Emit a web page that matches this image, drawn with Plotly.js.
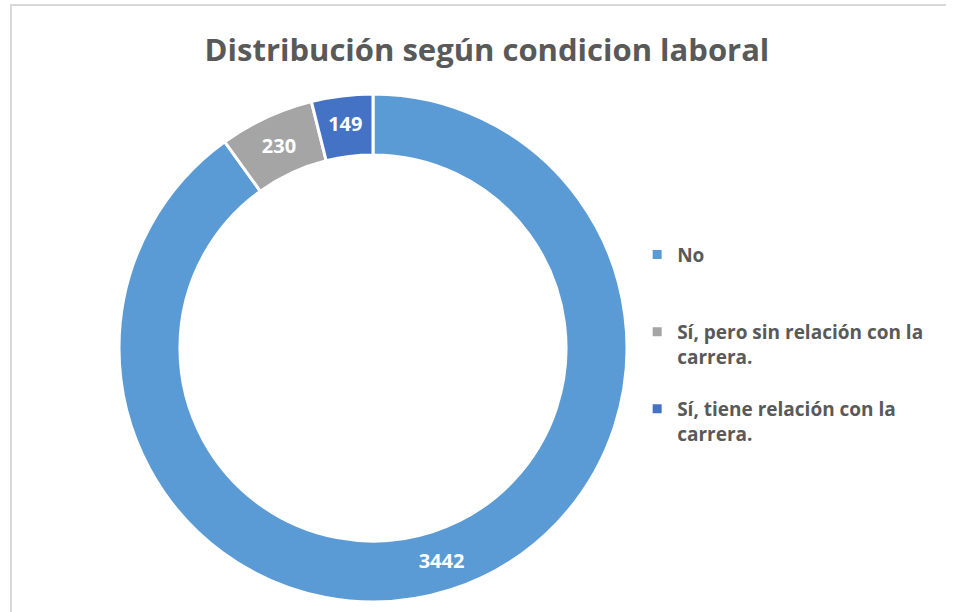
<!DOCTYPE html>
<html>
<head>
<meta charset="utf-8">
<script src="https://cdn.plot.ly/plotly-3.0.1.min.js"></script>
<style>
  html, body { margin: 0; padding: 0; background: #fff; }
  #frame { position: absolute; left: 10px; top: 4px; width: 934px; height: 608px;
           border-left: 2px solid #d9d9d9; border-top: 2px solid #d9d9d9; }
  #chart { position: absolute; left: 0; top: 0; width: 953px; height: 612px; }
</style>
</head>
<body>
<div id="frame"></div>
<div id="chart"></div>
<script>
const titleText = "Distribución según condicion laboral";
const categories = ["No", "Sí, pero sin relación con la carrera.", "Sí, tiene relación con la carrera."];
const legendLabels = ["No<br> <br> ", "Sí, pero sin relación con la<br>carrera.<br> ", "Sí, tiene relación con la<br>carrera.<br> "];
const values = [3442, 230, 149];
const colors = ["#5B9BD5", "#A5A5A5", "#4472C4"];

const FONT = "'Open Sans', sans-serif";

const trace = {
  type: "pie",
  labels: legendLabels,
  values: values,
  customdata: categories,
  hole: 0.76,
  sort: false,
  direction: "clockwise",
  rotation: 0,
  marker: { colors: colors, line: { color: "#ffffff", width: 3 } },
  textinfo: "value",
  textposition: "inside",
  insidetextorientation: "horizontal",
  textfont: { family: FONT, size: 20, color: "#ffffff", weight: "bold" },
  hoverinfo: "skip"
};

const layout = {
  width: 953, height: 612,
  margin: { l: 119, r: 326, t: 94, b: 10 },
  paper_bgcolor: "rgba(0,0,0,0)",
  plot_bgcolor: "rgba(0,0,0,0)",
  title: {
    text: "<b>" + titleText + "</b>",
    font: { family: FONT, size: 31, color: "#595959" },
    xref: "container", yref: "container",
    x: 0.511, y: 0.918, xanchor: "center", yanchor: "middle"
  },
  showlegend: true,
  legend: {
    x: 1.020, y: 0.721, xanchor: "left", yanchor: "top",
    valign: "top",
    font: { family: FONT, size: 19, color: "#595959", weight: "bold" },
    bgcolor: "rgba(0,0,0,0)"
  }
};

Plotly.newPlot("chart", [trace], layout, { displayModeBar: false, staticPlot: true });
</script>
</body>
</html>
